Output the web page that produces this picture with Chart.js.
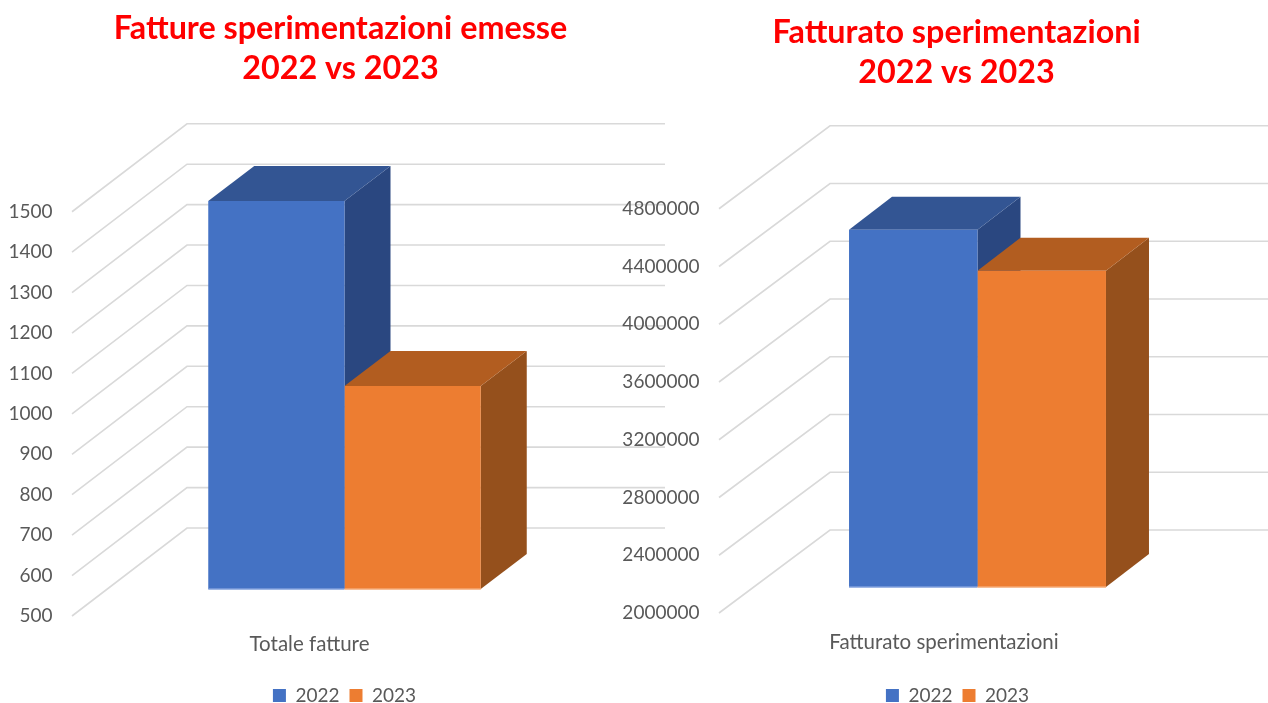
<!DOCTYPE html>
<html>
<head>
<meta charset="utf-8">
<title>Fatture e fatturato sperimentazioni</title>
<script src="https://cdn.jsdelivr.net/npm/chart.js@4"></script>
<style>
  html, body { margin: 0; padding: 0; background: #fff; }
  #page { position: relative; width: 1268px; height: 703px; overflow: hidden; }
  canvas { position: absolute; top: 0; }
  #chartLeft { left: 0; }
  #chartRight { left: 600px; }
</style>
</head>
<body>
<div id="page">
  <canvas id="chartLeft" width="681" height="715"></canvas>
  <canvas id="chartRight" width="668" height="715"></canvas>
</div>
<script>
'use strict';

const years = ['2022', '2023'];

const leftTitle = ['Fatture sperimentazioni emesse', '2022 vs 2023'];
const leftCategories = ['Totale fatture'];
const leftValues2022 = [1460];
const leftValues2023 = [1002];
const leftTicks = [500, 600, 700, 800, 900, 1000, 1100, 1200, 1300, 1400, 1500];

const rightTitle = ['Fatturato sperimentazioni', '2022 vs 2023'];
const rightCategories = ['Fatturato sperimentazioni'];
const rightValues2022 = [4475000];
const rightValues2023 = [4190000];
const rightTicks = [2000000, 2400000, 2800000, 3200000, 3600000, 4000000, 4400000, 4800000];

const fills = ['#4472c4', '#ed7d31'];
const topFills = ['#335593', '#b25d20'];
const sideFills = ['#2a4780', '#95501c'];
const baseLines = ['#7f9fdc', '#f4a873'];
const gridColor = '#d9d9d9';
const textColor = '#595959';

// fake 3d: walls and bar faces are drawn around what the scales give us
const fake3d = {
  id: 'fake3d',
  afterLayout(chart, args, opts) {
    chart.legend.left += opts.legendShift;
    chart.legend.right += opts.legendShift;
    chart.titleBlock.left += opts.titleShift;
    chart.titleBlock.right += opts.titleShift;
  },
  beforeDatasetsDraw(chart, args, opts) {
    const ctx = chart.ctx;
    const area = chart.chartArea;
    const yScale = chart.scales.y;
    const frontX = area.left;
    const backX = area.left + opts.wallDx;
    const endX = area.left + opts.wallLength;

    ctx.save();
    ctx.strokeStyle = gridColor;
    ctx.lineWidth = 1.6;
    yScale.ticks.forEach((tick, i) => {
      const y = yScale.getPixelForTick(i);
      ctx.beginPath();
      ctx.moveTo(frontX, y + opts.wallFront);
      ctx.lineTo(backX, y + opts.wallBack);
      ctx.lineTo(endX, y + opts.wallBack);
      ctx.stroke();
    });

    chart.data.datasets.forEach((ds, d) => {
      chart.getDatasetMeta(d).data.forEach(bar => {
        const left = bar.x - bar.width / 2;
        const right = bar.x + bar.width / 2;
        ctx.fillStyle = sideFills[d];
        ctx.beginPath();
        ctx.moveTo(right, bar.y);
        ctx.lineTo(right + opts.depthX, bar.y + opts.depthY);
        ctx.lineTo(right + opts.depthX, bar.base + opts.depthY);
        ctx.lineTo(right, bar.base);
        ctx.closePath();
        ctx.fill();
        ctx.fillStyle = topFills[d];
        ctx.beginPath();
        ctx.moveTo(left, bar.y);
        ctx.lineTo(left + opts.depthX, bar.y + opts.depthY);
        ctx.lineTo(right + opts.depthX, bar.y + opts.depthY);
        ctx.lineTo(right, bar.y);
        ctx.closePath();
        ctx.fill();
      });
    });
    ctx.restore();
  },
  afterDatasetsDraw(chart) {
    const ctx = chart.ctx;
    ctx.save();
    ctx.lineWidth = 1.5;
    chart.data.datasets.forEach((ds, d) => {
      chart.getDatasetMeta(d).data.forEach(bar => {
        ctx.strokeStyle = baseLines[d];
        ctx.beginPath();
        ctx.moveTo(bar.x - bar.width / 2, bar.base);
        ctx.lineTo(bar.x + bar.width / 2, bar.base);
        ctx.stroke();
      });
    });
    ctx.restore();
  }
};

function drawChart(id, cfg) {
  return new Chart(document.getElementById(id), {
    type: 'bar',
    data: {
      labels: cfg.categories,
      datasets: [
        { label: years[0], data: cfg.first, base: cfg.ticks[0], backgroundColor: fills[0], borderWidth: 0 },
        { label: years[1], data: cfg.second, base: cfg.ticks[0], backgroundColor: fills[1], borderWidth: 0 }
      ]
    },
    plugins: [fake3d],
    options: {
      responsive: false,
      animation: false,
      layout: { padding: { right: cfg.rightPad } },
      datasets: { bar: { barPercentage: 1, categoryPercentage: cfg.catPercent } },
      plugins: {
        title: {
          display: true,
          fullSize: false,
          text: cfg.title,
          color: '#ff0000',
          font: { family: 'Lato', size: 32.3, weight: 'bold', lineHeight: 1.25 },
          padding: { top: cfg.titleTop, bottom: cfg.titleBottom }
        },
        legend: {
          position: 'bottom',
          fullSize: false,
          labels: {
            boxWidth: 13,
            boxHeight: 13,
            padding: 10,
            color: textColor,
            font: { family: 'Lato', size: 19 }
          }
        },
        tooltip: { enabled: false },
        fake3d: cfg.walls
      },
      scales: {
        x: {
          grid: { display: false, drawTicks: false },
          border: { display: false },
          afterFit(axis) { axis.height = cfg.xHeight; },
          ticks: {
            padding: 43,
            labelOffset: cfg.xLabelOffset,
            autoSkip: false,
            maxRotation: 0,
            color: textColor,
            font: { family: 'Lato', size: 20.5 }
          }
        },
        y: {
          min: cfg.ticks[0],
          max: cfg.ticks[cfg.ticks.length - 1],
          grid: { display: false, drawTicks: false },
          border: { display: false },
          afterFit(axis) { axis.width = cfg.yWidth; },
          afterBuildTicks(axis) { axis.ticks = cfg.ticks.map(v => ({ value: v })); },
          ticks: {
            padding: 19.5,
            labelOffset: cfg.walls.wallFront,
            color: textColor,
            font: { family: 'Lato', size: 19 },
            callback: v => String(v)
          }
        }
      }
    }
  });
}

drawChart('chartLeft', {
  title: leftTitle,
  categories: leftCategories,
  first: leftValues2022,
  second: leftValues2023,
  ticks: leftTicks,
  rightPad: 64,
  yWidth: 72,
  xHeight: 87,
  catPercent: 0.5,
  xLabelOffset: -35,
  titleTop: 8,
  titleBottom: 96,
  walls: { wallDx: 115, wallLength: 593, wallFront: 27, wallBack: -61, depthX: 46, depthY: -35, legendShift: 0, titleShift: -4 }
});

drawChart('chartRight', {
  title: rightTitle,
  categories: rightCategories,
  first: rightValues2022,
  second: rightValues2023,
  ticks: rightTicks,
  rightPad: 32,
  yWidth: 119,
  xHeight: 89,
  catPercent: 0.497,
  xLabelOffset: -33.5,
  titleTop: 12,
  titleBottom: 90,
  walls: { wallDx: 111, wallLength: 549, wallFront: 26, wallBack: -57, depthX: 43, depthY: -33, legendShift: -20, titleShift: -21 }
});
</script>
</body>
</html>
